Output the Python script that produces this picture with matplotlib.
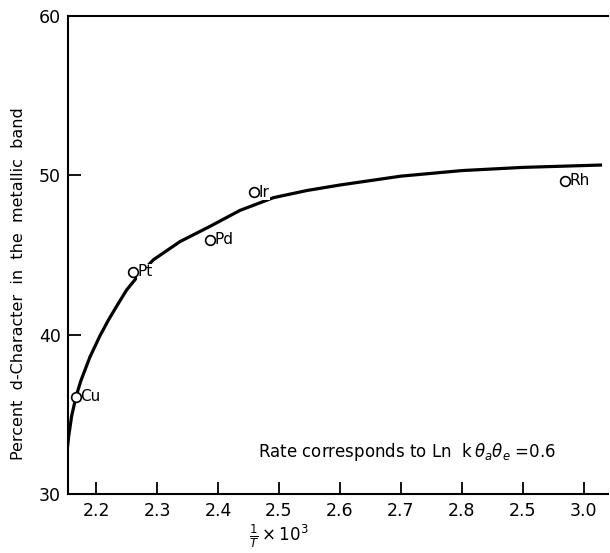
import matplotlib
matplotlib.use("Agg")
import matplotlib.pyplot as plt

# smooth curve drawn through the metals
curve_x = [2.151, 2.155, 2.160, 2.167, 2.175, 2.190, 2.206, 2.220, 2.234, 2.250, 2.267, 2.294,
           2.338, 2.387, 2.436, 2.491, 2.546, 2.601, 2.70, 2.80, 2.90, 3.03]
curve_y = [32.2, 33.6, 34.9, 36.1, 37.1, 38.6, 39.9, 40.9, 41.8, 42.8, 43.6, 44.7,
           45.85, 46.8, 47.8, 48.6, 49.05, 49.4, 49.95, 50.3, 50.5, 50.65]

# measured points
metals = ["Cu", "Pt", "Pd", "Ir", "Rh"]
metal_x = [2.167, 2.261, 2.387, 2.459, 2.970]
metal_y = [36.1, 43.95, 45.95, 48.95, 49.65]

xticks = [2.2, 2.3, 2.4, 2.5, 2.6, 2.7, 2.8, 2.9, 3.0]
xtick_labels = ["2.2", "2.3", "2.4", "2.5", "2.6", "2.7", "2.8", "2.5", "3.0"]
yticks = [30, 40, 50, 60]

plt.rcParams["font.family"] = "DejaVu Sans"

fig = plt.figure(figsize=(6.10, 5.53), dpi=100)
ax = fig.add_axes([0.1115, 0.1067, 0.997 - 0.1115, 0.971 - 0.1067])

ax.plot(curve_x, curve_y, color="black", lw=2.3, solid_capstyle="butt", solid_joinstyle="round")
ax.plot(metal_x, metal_y, "o", mfc="white", mec="black", ms=7, mew=1.2, zorder=3)
for name, x, y in zip(metals, metal_x, metal_y):
    ax.text(x + 0.007, y, name, fontsize=11, va="center", ha="left",
            bbox=dict(facecolor="white", edgecolor="none", pad=0.3), zorder=2)

ax.set_xlim(2.154, 3.04)
ax.set_ylim(30, 60)
ax.set_xticks(xticks)
ax.set_xticklabels(xtick_labels)
ax.set_yticks(yticks)
ax.tick_params(direction="in", length=9, width=1.3, labelsize=12.5, pad=5)
ax.tick_params(axis="x", pad=6)

for s in ["left", "top", "bottom"]:
    ax.spines[s].set_linewidth(1.5)
ax.spines["right"].set_visible(False)

ax.text(2.466, 32.3, r"Rate corresponds to Ln  k$\,\theta_a\theta_e$ =0.6", fontsize=12)
ax.text(-0.092, 0.44, "Percent  d-Character  in  the  metallic  band", transform=ax.transAxes,
        rotation=90, fontsize=11.5, ha="center", va="center")
ax.text(0.39, -0.088, r"$\frac{1}{T}\times10^3$", transform=ax.transAxes,
        fontsize=12, ha="center", va="center")

fig.savefig("out.png", dpi=100)
